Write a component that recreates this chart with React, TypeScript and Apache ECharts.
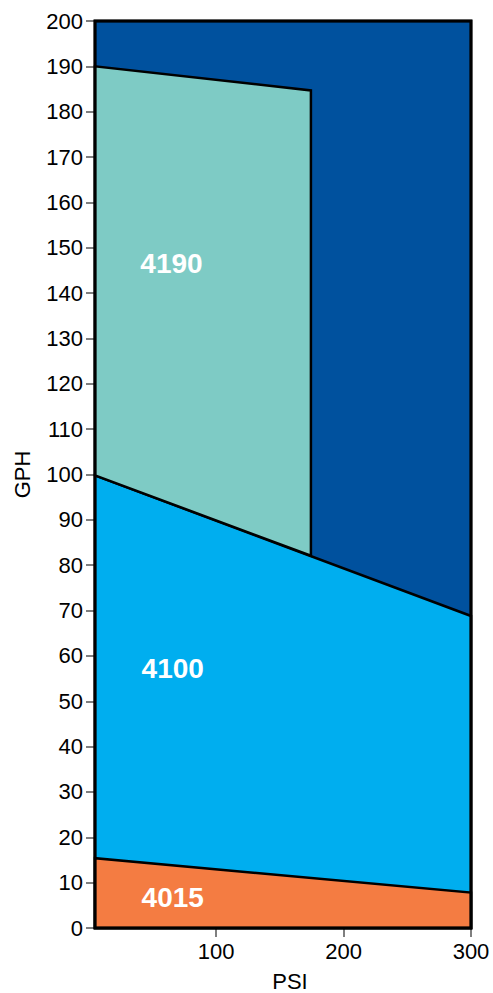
import React, { useEffect, useRef } from "react";
import * as echarts from "echarts";

const psiMin = 5;
const psiMax = 300;
const gphMin = 0;
const gphMax = 200;
const psiTicks = [100, 200, 300];
const gphInterval = 10;

const line4015 = [
  [5, 15.4],
  [300, 7.8],
];
const line4100 = [
  [5, 99.8],
  [300, 68.8],
];
const outline4190 = [
  [5, 99.8],
  [5, 190],
  [174.4, 184.7],
  [174.4, 82.1],
];
const regionNames = ["4190", "4100", "4015"];
const labelAnchors = [
  [65, 146.6],
  [66, 57.3],
  [66, 6.8],
];

const COLORS = {
  bg: "#00519E",
  r4100: "#00AEEF",
  r4015: "#F47C42",
  r4190: "#7ECBC5",
};

const FONT = "'Liberation Sans', Arial, Helvetica, sans-serif";

export default function App() {
  const ref = useRef<HTMLDivElement>(null);
  useEffect(() => {
    document.body.style.margin = "0";
    const chart = echarts.init(ref.current!, null, { renderer: "svg" });

    const bgPoly = [
      [psiMin, gphMin],
      [psiMin, gphMax],
      [psiMax, gphMax],
      [psiMax, gphMin],
    ];
    const poly4100 = [[psiMin, gphMin], ...line4100, [psiMax, gphMin]];
    const poly4015 = [[psiMin, gphMin], ...line4015, [psiMax, gphMin]];

    const polySeries = (name: string, pts: number[][], fill: string, stroke: string, lw: number, z = 2) => ({
      type: "custom",
      name,
      z,
      data: [[pts[0][0], pts[0][1]]],
      renderItem: (_p: any, api: any) => ({
        type: "polygon",
        shape: { points: pts.map((p) => api.coord(p)) },
        style: { fill, stroke, lineWidth: lw, lineJoin: "miter" },
      }),
      silent: true,
    });

    const labelSeries = {
      type: "custom",
      name: "labels",
      z: 5,
      data: labelAnchors.map((a, i) => [a[0], a[1], i]),
      renderItem: (_p: any, api: any) => {
        const c = api.coord([api.value(0), api.value(1)]);
        return {
          type: "text",
          x: c[0],
          y: c[1],
          style: {
            text: regionNames[api.value(2)],
            fill: "#fff",
            fontSize: 28,
            fontWeight: "bold",
            fontFamily: FONT,
            align: "center",
            verticalAlign: "middle",
          },
        };
      },
      silent: true,
    };

    chart.setOption({
      animation: false,
      grid: { left: 95, right: 22, top: 21, bottom: 65, outerBoundsMode: "none", containLabel: false },
      xAxis: {
        type: "value",
        min: psiMin,
        max: psiMax,
        name: "PSI",
        nameLocation: "middle",
        nameGap: 42,
        nameTextStyle: { fontSize: 22, color: "#000", fontFamily: FONT, padding: [0, 0, 0, 14] },
        axisLine: { show: false },
        splitLine: { show: false },
        axisTick: { show: true, length: 9, customValues: psiTicks, lineStyle: { color: "#555", width: 1.5 } },
        axisLabel: { customValues: psiTicks, fontSize: 22, color: "#000", fontFamily: FONT, margin: 12 },
      },
      yAxis: {
        type: "value",
        min: gphMin,
        max: gphMax,
        interval: gphInterval,
        name: "GPH",
        nameLocation: "middle",
        nameGap: 62,
        nameRotate: 90,
        nameTextStyle: { fontSize: 22, color: "#000", fontFamily: FONT },
        axisLine: { show: false },
        splitLine: { show: false },
        axisTick: { show: true, length: 9, lineStyle: { color: "#555", width: 1.5 } },
        axisLabel: { fontSize: 22, color: "#000", fontFamily: FONT, margin: 12 },
      },
      series: [
        polySeries("bg", bgPoly, COLORS.bg, "#000", 2.5),
        polySeries("4100", poly4100, COLORS.r4100, "#000", 2.5),
        polySeries("4015", poly4015, COLORS.r4015, "#000", 2.5),
        polySeries("4190", outline4190, COLORS.r4190, "#000", 2.5),
        polySeries("frame", bgPoly, "none", "#000", 3, 4),
        labelSeries,
      ],
    });
    return () => chart.dispose();
  }, []);
  return <div ref={ref} style={{ width: 493, height: 993 }} />;
}
